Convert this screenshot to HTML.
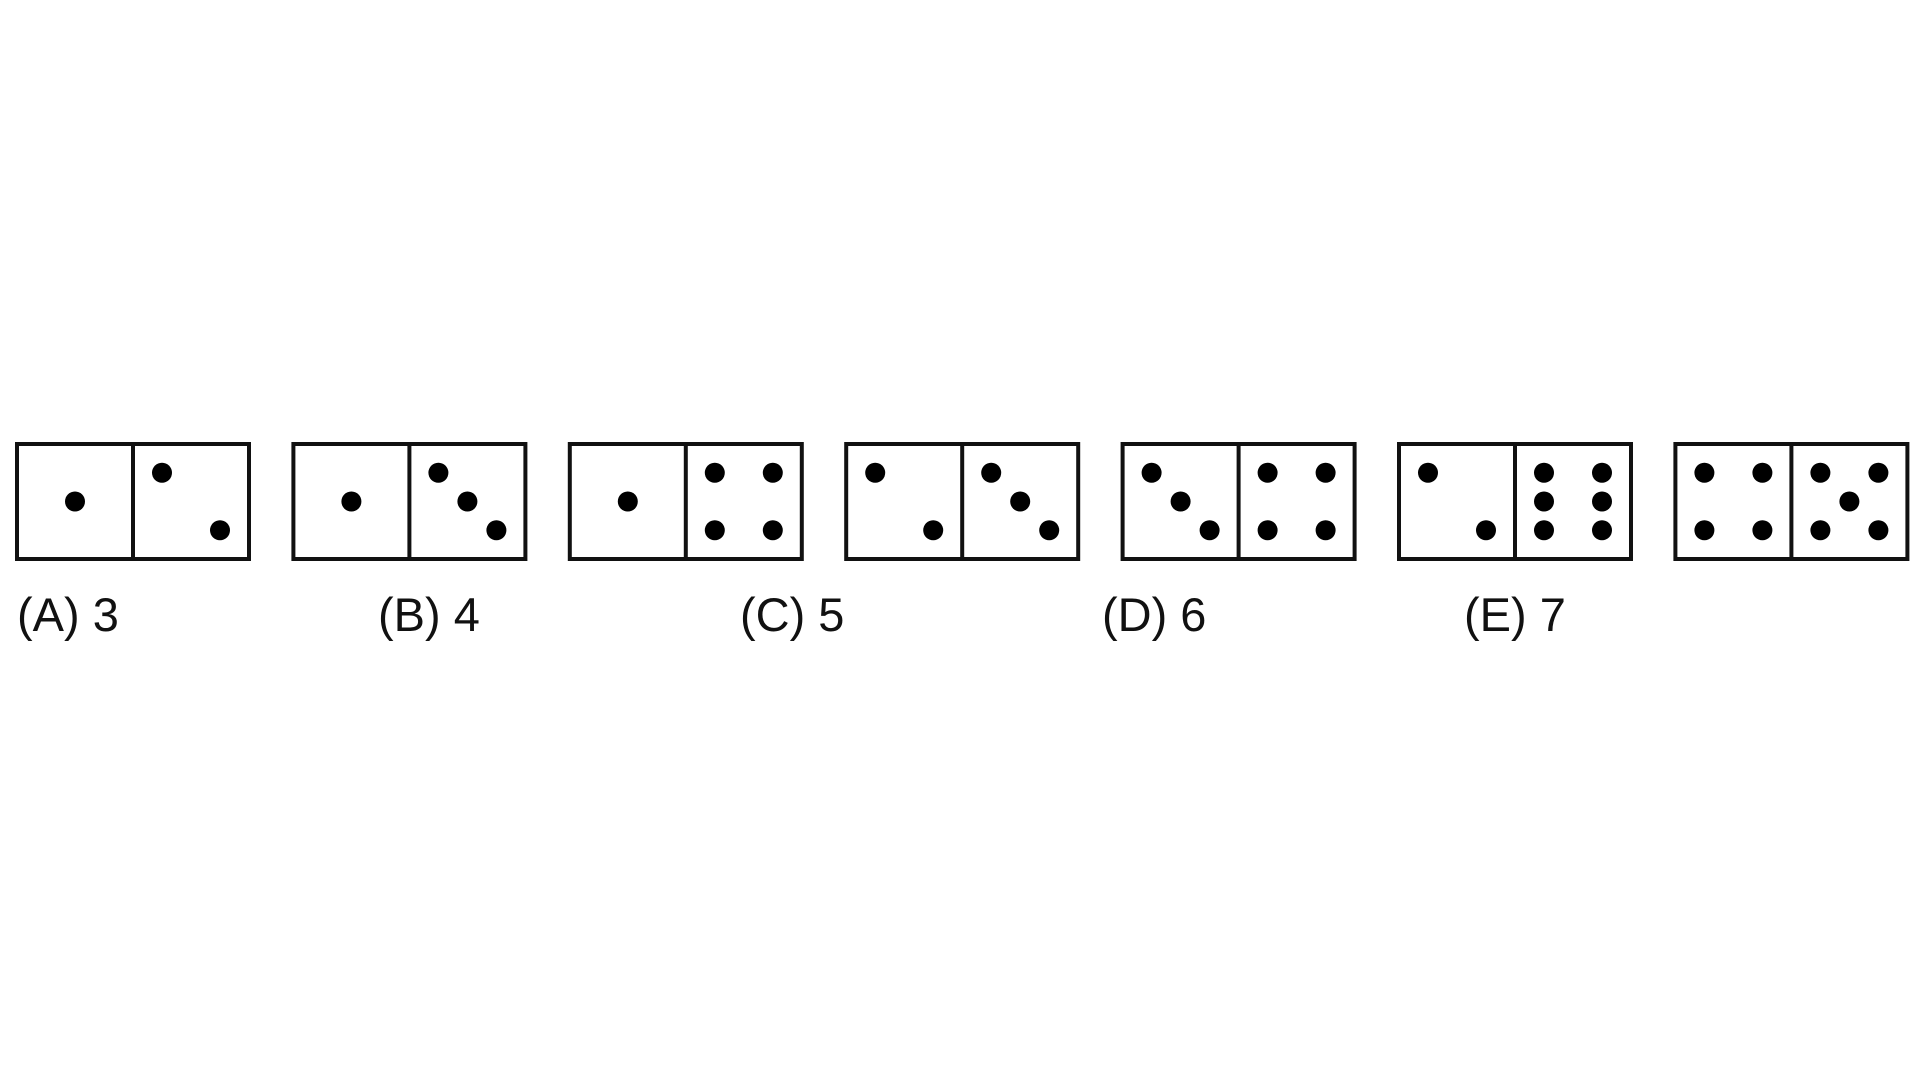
<!DOCTYPE html>
<html><head><meta charset="utf-8"><style>
html,body{margin:0;padding:0;background:#fff;}
svg{display:block;}
text{font-family:"Liberation Sans",sans-serif;font-size:47px;fill:#111;}
</style></head><body>
<svg width="1920" height="1080" xmlns="http://www.w3.org/2000/svg">
</svg>
<script>
var svg=document.querySelector('svg');var NS='http://www.w3.org/2000/svg';
function el(n,a){var e=document.createElementNS(NS,n);for(var k in a)e.setAttribute(k,a[k]);svg.appendChild(e);return e;}
var P={1:[[.5,.5]],2:[[.25,.25],[.75,.75]],3:[[.25,.25],[.5,.5],[.75,.75]],4:[[.25,.25],[.75,.25],[.25,.75],[.75,.75]],5:[[.25,.25],[.75,.25],[.5,.5],[.25,.75],[.75,.75]],6:[[.25,.25],[.75,.25],[.25,.5],[.75,.5],[.25,.75],[.75,.75]]};
var D=[[1,2],[1,3],[1,4],[2,3],[3,4],[2,6],[4,5]];
var W=232,H=115,T=444;
D.forEach(function(d,i){
 var x=17+i*276.4;
 el('rect',{x:x,y:T,width:W,height:H,fill:'#fff',stroke:'#111','stroke-width':4});
 el('line',{x1:x+W/2,y1:T,x2:x+W/2,y2:T+H,stroke:'#111','stroke-width':4});
 [0,1].forEach(function(h){
  var hx=x+h*W/2;
  P[d[h]].forEach(function(p){el('circle',{cx:hx+p[0]*W/2,cy:T+p[1]*H,r:10,fill:'#000'});});
 });
});
var L=[['(A) 3',17],['(B) 4',378],['(C) 5',740],['(D) 6',1102],['(E) 7',1464]];
L.forEach(function(l){var t=el('text',{x:l[1],y:631});t.textContent=l[0];});
</script>
</body></html>
